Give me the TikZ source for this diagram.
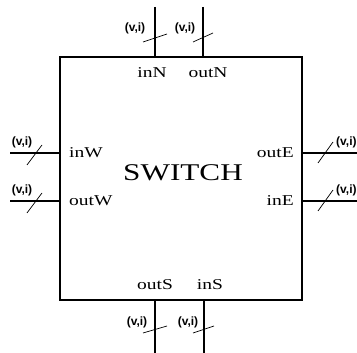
\documentclass[tikz,border=0pt]{standalone}
\usepackage{fontspec}
\setmainfont{Liberation Serif}[FakeStretch=1.3]
\newfontfamily\vifont{Liberation Sans}
\begin{document}
\begin{tikzpicture}[x=1pt,y=1pt,
  wire/.style={line width=2.8pt},
  sidewire/.style={line width=2.2pt},
  tick/.style={line width=0.7pt},
  port/.style={font=\fontsize{15}{15}\selectfont,inner sep=0pt},
  vi/.style={font=\vifont\bfseries\fontsize{12}{12}\selectfont,inner sep=0pt}]
\useasboundingbox (0,-353) rectangle (357,0);
\clip (0,-353) rectangle (357,0);

% switch box
\node[draw,line width=2.2pt,minimum width=242pt,minimum height=243pt] (sw) at (181,-178.5) {};
\node[font=\fontsize{24}{24}\selectfont] (name) at (183,-173) {SWITCH};

% port points on the box and free wire ends
\coordinate (pN1) at (155,-57);  \coordinate (eN1) at (155,-7);
\coordinate (pN2) at (203,-57);  \coordinate (eN2) at (203,-7);
\coordinate (pS1) at (155,-300); \coordinate (eS1) at (155,-353);
\coordinate (pS2) at (204,-300); \coordinate (eS2) at (204,-353);
\coordinate (pW1) at (60,-153);  \coordinate (eW1) at (10,-153);
\coordinate (pW2) at (60,-201);  \coordinate (eW2) at (10,-201);
\coordinate (pE1) at (302,-153); \coordinate (eE1) at (357,-153);
\coordinate (pE2) at (302,-201); \coordinate (eE2) at (357,-201);

\draw[wire] (eN1) -- (pN1);
\draw[wire] (eN2) -- (pN2);
\draw[wire] (pS1) -- (eS1);
\draw[wire] (pS2) -- (eS2);
\draw[sidewire] (eW1) -- (pW1);
\draw[sidewire] (eW2) -- (pW2);
\draw[sidewire] (pE1) -- (eE1);
\draw[sidewire] (pE2) -- (eE2);

% bus ticks
\draw[tick] (143,-42) -- (167,-34);
\draw[tick] (193,-42) -- (213,-33);
\draw[tick] (143,-333) -- (167,-326);
\draw[tick] (193,-333) -- (214,-326);
\draw[tick] (27,-165) -- (42,-145);
\draw[tick] (27,-213) -- (42,-193);
\draw[tick] (318,-163) -- (333,-142);
\draw[tick] (318,-211) -- (333,-190);

% port names
\node[port] (inN) at (152,-73) {inN};
\node[port] (outN) at (208,-73) {outN};
\node[port] (outS) at (155,-285) {outS};
\node[port] (inS) at (210,-285) {inS};
\node[port,anchor=west] (inW) at (69,-153) {inW};
\node[port,anchor=west] (outW) at (69,-201) {outW};
\node[port,anchor=east] (outE) at (294,-153) {outE};
\node[port,anchor=east] (inE) at (294,-201) {inE};

% (v,i) labels
\node[vi] (viN1) at (135,-28) {(v,i)};
\node[vi] (viN2) at (185,-28) {(v,i)};
\node[vi] (viS1) at (137,-322) {(v,i)};
\node[vi] (viS2) at (188,-322) {(v,i)};
\node[vi] (viW1) at (22,-142) {(v,i)};
\node[vi] (viW2) at (22,-190) {(v,i)};
\node[vi,anchor=west] (viE1) at (336,-142) {(v,i)};
\node[vi,anchor=west] (viE2) at (336,-190) {(v,i)};
\end{tikzpicture}
\end{document}
